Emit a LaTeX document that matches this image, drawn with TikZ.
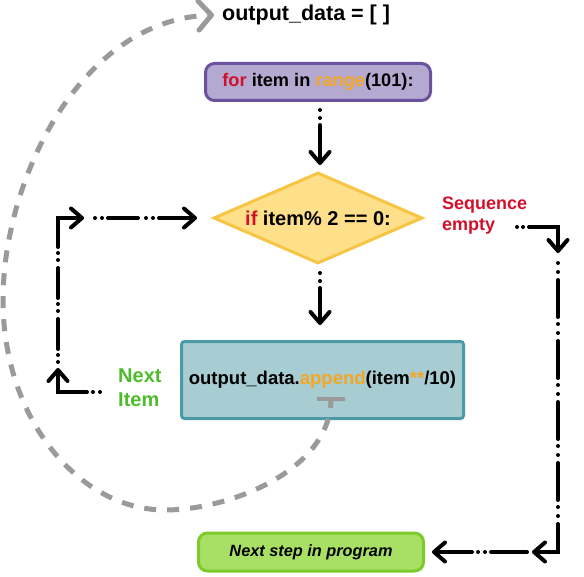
\documentclass[tikz,border=0pt]{standalone}
\usepackage{fontspec}
\setmainfont{Liberation Sans}
\usetikzlibrary{arrows.meta,shapes.geometric}
\definecolor{forred}{HTML}{D0112B}
\definecolor{rngorange}{HTML}{F5A623}
\definecolor{purfill}{HTML}{B4A9D0}
\definecolor{purline}{HTML}{6B529E}
\definecolor{dmdfill}{HTML}{FFE08A}
\definecolor{dmdline}{HTML}{F7C443}
\definecolor{tealfill}{HTML}{A7CDD3}
\definecolor{tealline}{HTML}{4A9BA6}
\definecolor{grnfill}{HTML}{A8E065}
\definecolor{grnline}{HTML}{7BCB2A}
\definecolor{nextgreen}{HTML}{4DBB2A}
\definecolor{loopgray}{HTML}{9A9A9A}
\begin{document}
\begin{tikzpicture}[x=1bp,y=-1bp,
  flowline/.style={draw=black, line width=4bp, line cap=round, line join=miter},
  flowarrow/.style={flowline, -{Straight Barb[round,length=11bp,width=19bp]}},
  twodots/.style={dash pattern=on 0bp off 8bp on 0bp off 7bp on 600bp},
  boxtext/.style={text=black, inner sep=0pt},
  graycurve/.style={draw=loopgray, line width=5bp, line cap=butt,
     dash pattern=on 12bp off 11bp, dash phase=4bp,
     {Bar[width=28bp,line width=4bp]}-{Straight Barb[length=13bp,width=29bp,round]}}
]
\useasboundingbox (0,0) rectangle (584,577);

% nodes
\node[boxtext, anchor=base west, font=\fontsize{21.5bp}{25bp}\selectfont\bfseries] (out) at (222,21) {output\_data = [ ]};

\node[draw=purline, fill=purfill, line width=3bp, rounded corners=9bp,
      minimum width=225bp, minimum height=37bp, inner sep=0pt,
      font=\fontsize{18.2bp}{22bp}\selectfont\bfseries] (forbox) at (318,82)
      {{\color{forred}for} item in {\color{rngorange}range}(101):};

\node[diamond, draw=dmdline, fill=dmdfill, line width=3bp, aspect=2.25, inner sep=0pt,
      minimum width=209bp, minimum height=91bp,
      font=\fontsize{20bp}{24bp}\selectfont\bfseries] (dmd) at (318,218)
      {{\color{forred}if} item\% 2 == 0:};

\node[draw=tealline, fill=tealfill, line width=3bp, rounded corners=3bp,
      minimum width=282bp, minimum height=77bp, inner sep=0pt,
      font=\fontsize{18.5bp}{22bp}\selectfont\bfseries] (apbox) at (322.5,380)
      {output\_data.{\color{rngorange}append}(item{\color{rngorange}**}/10)};

\node[draw=grnline, fill=grnfill, line width=3bp, rounded corners=9bp,
      minimum width=225bp, minimum height=38bp, inner sep=0pt,
      font=\fontsize{16.3bp}{20bp}\selectfont\bfseries\itshape] (nextstep) at (311,552)
      {Next step in program};

\node[anchor=west, align=left, inner sep=0pt, text=forred,
      font=\fontsize{18bp}{21bp}\selectfont\bfseries] (seq) at (442,216) {Sequence\\empty};

\node[anchor=west, align=left, inner sep=0pt, text=nextgreen,
      font=\fontsize{20bp}{24bp}\selectfont\bfseries] (nextitem) at (118,388) {Next\\Item};

% coordinates
\coordinate (L0) at (100,392);
\coordinate (L1) at (58,392);
\coordinate (L2) at (58,368);
\coordinate (L3) at (58,362);
\coordinate (L4) at (58,218);
\coordinate (L5) at (84,218);
\coordinate (L6) at (95,218);
\coordinate (R0) at (517,227);
\coordinate (R1) at (558,227);
\coordinate (R2) at (558,253);
\coordinate (R3) at (558,263);
\coordinate (R4) at (558,552);
\coordinate (R5) at (532,552);
\coordinate (R6) at (527,552);
\coordinate (gstart) at (331,397);
\coordinate (gend) at (214,15);
\coordinate (t1) at ([xshift=2bp]forbox.south);
\coordinate (t2) at ([xshift=2bp]dmd.south);

% vertical flow
\draw[flowarrow, twodots, shorten <=8bp, shorten >=6bp] (t1) -- (t1 |- dmd.north);
\draw[flowarrow, twodots, shorten <=8bp, shorten >=15bp] (t2) -- (t2 |- apbox.north);

% left loop
\draw[flowarrow, dash pattern=on 0bp off 7bp on 0bp off 6bp on 400bp] (L0) -- (L1) -- (L2);
\draw[flowarrow, dash pattern=on 0bp off 7bp on 0bp off 6bp on 30bp off 8bp on 0bp off 7bp on 0bp off 6bp on 30bp off 8bp on 0bp off 7bp on 0bp off 6bp on 400bp] (L3) -- (L4) -- (L5);
\draw[flowarrow, dash pattern=on 0bp off 7bp on 0bp off 6bp on 30bp off 8bp on 0bp off 7bp on 0bp off 6bp on 400bp, shorten >=15bp] (L6) -- (dmd.west);

% right path
\draw[flowarrow, dash pattern=on 0bp off 6bp on 0bp off 6bp on 400bp] (R0) -- (R1) -- (R2);
\draw[flowarrow, dash pattern=on 0bp off 9bp on 0bp off 8bp on 37bp off 7bp on 0bp off 9bp on 0bp off 8bp on 37bp off 7bp on 0bp off 9bp on 0bp off 8bp on 37bp off 7bp on 0bp off 9bp on 0bp off 8bp on 37bp off 7bp on 0bp off 9bp on 0bp off 8bp on 600bp] (R3) -- (R4) -- (R5);
\draw[flowarrow, dash pattern=on 36bp off 6bp on 0bp off 7bp on 0bp off 6bp on 400bp, shorten >=7bp] (R6) -- (nextstep.east);

% gray loop back
\draw[graycurve] (gstart) .. controls (330,470) and (230,510) .. (165,510)
   .. controls (80,510) and (3,420) .. (3,300)
   .. controls (3,180) and (80,20) .. (gend);
\end{tikzpicture}
\end{document}
